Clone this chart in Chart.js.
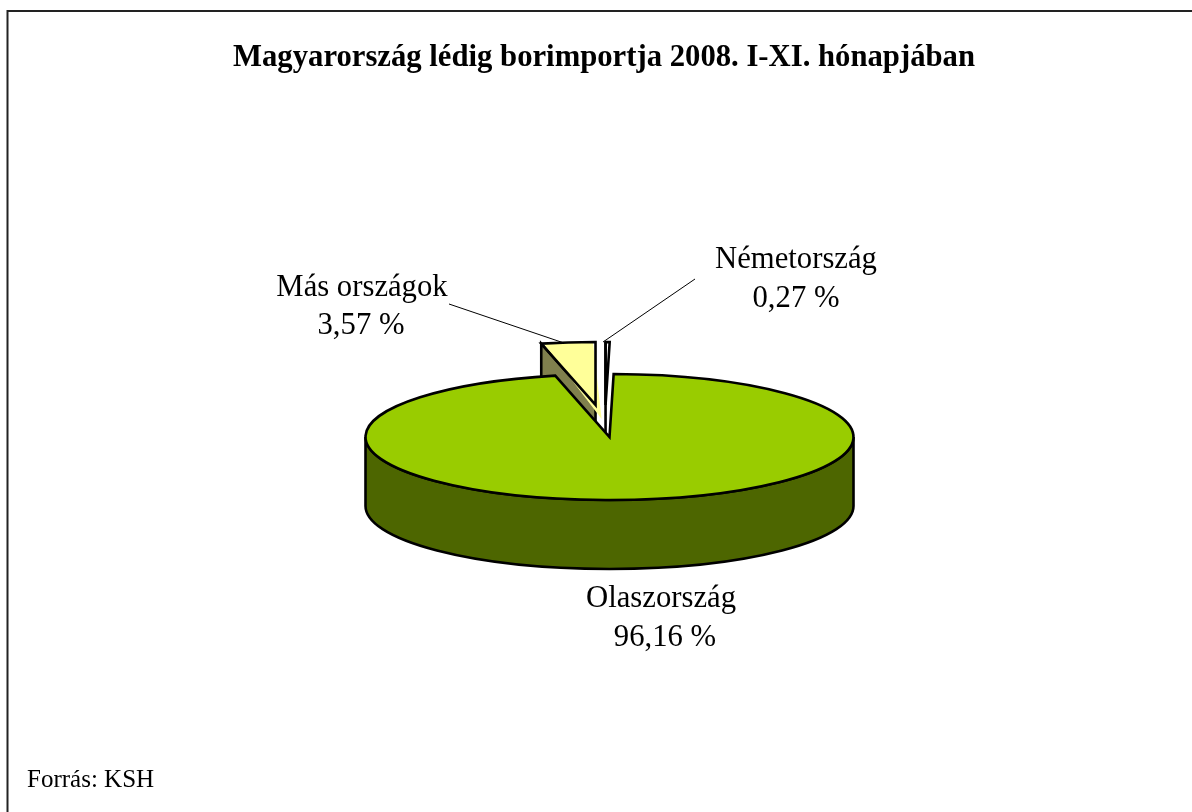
<!DOCTYPE html>
<html>
<head>
<meta charset="utf-8">
<title>Magyarország lédig borimportja</title>
<script src="https://cdn.jsdelivr.net/npm/chart.js@4"></script>
<style>
  html, body { margin: 0; padding: 0; background: #fff; overflow: hidden; }
  canvas { display: block; }
</style>
</head>
<body>
<canvas id="pie" width="1192" height="812"></canvas>
<script>
const chartTitle = 'Magyarország lédig borimportja 2008. I-XI. hónapjában';
const sourceNote = 'Forrás: KSH';
const countries = ['Németország', 'Olaszország', 'Más országok'];
const shares = [0.27, 96.16, 3.57];
const topColors = ['#ffffcc', '#99cc00', '#ffff99'];
const sideColors = ['#808066', '#4d6600', '#80804d'];
const explode = [250, 0, 281];

// look of the fake 3d pie
const TILT = 0.258;
const DEPTH = 69;
const NUDGE_X = [-5, 0, 0];
const DRAW_ORDER = [2, 0, 1];

// label anchors: [centre x, first baseline, second baseline, centre x of second line]
const labelPos = [
  [796, 268, 307, 796],
  [661, 607, 646, 665],
  [362, 296, 334, 361]
];
const leaders = [
  [[695, 279], [603, 342]],
  null,
  [[449, 304], [564, 343]]
];

function sliceGeom(arc, i) {
  const half = (arc.startAngle + arc.endAngle) / 2;
  const c = arc.endAngle - arc.startAngle;
  const fix = 1 - Math.sin(Math.min(Math.PI, c));
  const t = (arc.options.offset || 0) / 4 * (1 + fix);
  return {
    x: arc.x + NUDGE_X[i] + Math.cos(half) * t,
    y: arc.y + Math.sin(half) * t * TILT,
    r: arc.outerRadius
  };
}

const pie3d = {
  id: 'pie3d',
  beforeDatasetsDraw(chart) {
    const ctx = chart.ctx;
    const arcs = chart.getDatasetMeta(0).data;
    ctx.save();
    ctx.lineWidth = 2.6;
    ctx.lineJoin = 'miter';
    ctx.strokeStyle = '#000';

    DRAW_ORDER.forEach(i => {
      const arc = arcs[i];
      const g = sliceGeom(arc, i);
      const ry = g.r * TILT;

      // side wall
      ctx.beginPath();
      if (arc.endAngle - arc.startAngle > Math.PI) {
        ctx.ellipse(g.x, g.y, g.r, ry, 0, Math.PI, 0, true);
        ctx.lineTo(g.x + g.r, g.y + DEPTH);
        ctx.ellipse(g.x, g.y + DEPTH, g.r, ry, 0, 0, Math.PI);
      } else {
        const tipX = g.x + Math.cos(arc.startAngle) * g.r;
        const tipY = g.y + Math.sin(arc.startAngle) * ry;
        ctx.moveTo(tipX, tipY);
        ctx.lineTo(g.x, g.y);
        ctx.lineTo(g.x, g.y + DEPTH);
        ctx.lineTo(tipX, tipY + DEPTH);
      }
      ctx.closePath();
      ctx.fillStyle = sideColors[i];
      ctx.fill();
      ctx.stroke();

      // top face goes through the library, squashed
      ctx.save();
      ctx.translate(arc.x + NUDGE_X[i], arc.y);
      ctx.scale(1, TILT);
      ctx.translate(-arc.x, -arc.y);
      arc.draw(ctx);
      ctx.restore();

      // outline in screen space so the stroke stays even
      ctx.beginPath();
      ctx.moveTo(g.x, g.y);
      ctx.ellipse(g.x, g.y, g.r, ry, 0, arc.startAngle, arc.endAngle);
      ctx.closePath();
      ctx.stroke();
    });
    ctx.restore();
    return false;
  },
  afterDraw(chart) {
    const ctx = chart.ctx;
    ctx.save();

    // frame runs off the right and bottom edge
    ctx.strokeStyle = '#222';
    ctx.lineWidth = 2;
    ctx.beginPath();
    ctx.moveTo(7.5, 812);
    ctx.lineTo(7.5, 11);
    ctx.lineTo(1192, 11);
    ctx.stroke();

    ctx.strokeStyle = '#000';
    ctx.lineWidth = 1;
    leaders.forEach(l => {
      if (!l) return;
      ctx.beginPath();
      ctx.moveTo(l[0][0], l[0][1]);
      ctx.lineTo(l[1][0], l[1][1]);
      ctx.stroke();
    });

    ctx.fillStyle = '#000';
    ctx.textBaseline = 'alphabetic';
    ctx.textAlign = 'center';
    ctx.font = 'bold 30.7px "Liberation Serif"';
    ctx.fillText(chartTitle, 604, 66);

    ctx.font = '30.7px "Liberation Serif"';
    countries.forEach((name, i) => {
      const p = labelPos[i];
      ctx.fillText(name, p[0], p[1]);
      ctx.fillText(shares[i].toFixed(2).replace('.', ',') + ' %', p[3], p[2]);
    });

    ctx.textAlign = 'left';
    ctx.font = '25px "Liberation Serif"';
    ctx.fillText(sourceNote, 27, 787);
    ctx.restore();
  }
};

new Chart(document.getElementById('pie'), {
  type: 'pie',
  data: {
    labels: countries,
    datasets: [{
      data: shares,
      backgroundColor: topColors,
      borderWidth: 0,
      offset: explode
    }]
  },
  options: {
    responsive: false,
    animation: false,
    radius: 244,
    layout: { padding: { left: 27, top: 62 } },
    plugins: { legend: { display: false }, tooltip: { enabled: false } }
  },
  plugins: [pie3d]
});
</script>
</body>
</html>
